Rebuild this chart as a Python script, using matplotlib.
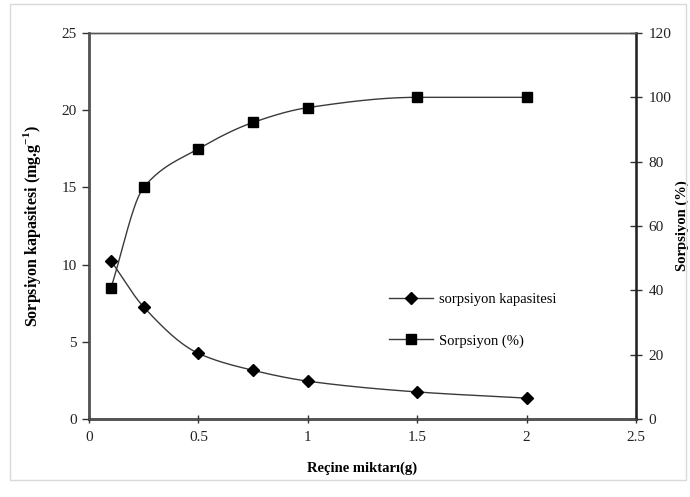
import numpy as np
import matplotlib
matplotlib.use("Agg")
import matplotlib.pyplot as plt
from matplotlib.patches import Rectangle

# resin amount (g)
resin_g = [0.1, 0.25, 0.5, 0.75, 1.0, 1.5, 2.0]
# sorption capacity (mg/g), left axis
capacity = [10.25, 7.25, 4.25, 3.15, 2.45, 1.75, 1.35]
# sorption (%), right axis
sorption_pct = [40.7, 72.0, 84.0, 92.2, 96.8, 100.0, 100.0]

x_ticks = [0, 0.5, 1, 1.5, 2, 2.5]
x_ticklabels = ["0", "0.5", "1", "1.5", "2", "2.5"]
left_ticks = [0, 5, 10, 15, 20, 25]
right_ticks = [0, 20, 40, 60, 80, 100, 120]


def smooth(xs, ys, n=40):
    # monotone cubic (Fritsch-Carlson) curve through the points, no overshoot
    xs = np.asarray(xs, float)
    ys = np.asarray(ys, float)
    h = np.diff(xs)
    d = np.diff(ys) / h
    m = np.zeros_like(ys)
    m[0], m[-1] = d[0], d[-1]
    for i in range(1, len(ys) - 1):
        if d[i - 1] * d[i] <= 0:
            m[i] = 0.0
        else:
            w1 = 2 * h[i] + h[i - 1]
            w2 = h[i] + 2 * h[i - 1]
            m[i] = (w1 + w2) / (w1 / d[i - 1] + w2 / d[i])
    out_x, out_y = [], []
    for i in range(len(xs) - 1):
        t = np.linspace(0, 1, n)
        h00 = 2 * t**3 - 3 * t**2 + 1
        h10 = t**3 - 2 * t**2 + t
        h01 = -2 * t**3 + 3 * t**2
        h11 = t**3 - t**2
        out_x.extend(xs[i] + t * h[i])
        out_y.extend(h00 * ys[i] + h10 * h[i] * m[i]
                     + h01 * ys[i + 1] + h11 * h[i] * m[i + 1])
    return np.array(out_x), np.array(out_y)


plt.rcParams["font.family"] = ["Liberation Serif", "DejaVu Serif"]
plt.rcParams["mathtext.fontset"] = "custom"
plt.rcParams["mathtext.rm"] = "Liberation Serif"
plt.rcParams["mathtext.bf"] = "Liberation Serif:bold"

fig = plt.figure(figsize=(6.9, 4.97), dpi=100)
fig.patches.append(Rectangle((0.014, 0.034), 0.98, 0.958, transform=fig.transFigure,
                             fill=False, edgecolor="#d9d9d9", linewidth=1.0))
ax = fig.add_axes([0.129, 0.157, 0.7927, 0.7766])
ax2 = ax.twinx()

line_col = "#3a3a3a"
sx, sy = smooth(resin_g, capacity)
ax.plot(sx, sy, color=line_col, linewidth=1.0)
ax.plot(resin_g, capacity, linestyle="none", marker="D", markersize=6,
        color="black")
sx, sy = smooth(resin_g, sorption_pct)
ax2.plot(sx, sy, color=line_col, linewidth=1.0)
ax2.plot(resin_g, sorption_pct, linestyle="none", marker="s", markersize=7,
         color="black")

# legend handles
ax.plot([], [], color=line_col, linewidth=1.0, marker="D", markersize=6,
        markerfacecolor="black", markeredgecolor="black",
        label="sorpsiyon kapasitesi")
ax.plot([], [], color=line_col, linewidth=1.0, marker="s", markersize=7,
        markerfacecolor="black", markeredgecolor="black",
        label="Sorpsiyon (%)")
ax.legend(loc="upper left", bbox_to_anchor=(0.525, 0.36), frameon=False,
          fontsize=10.5, handlelength=3.0, labelspacing=1.9,
          handletextpad=0.4)

ax.set_xlim(0, 2.5)
ax.set_ylim(0, 25)
ax2.set_ylim(0, 120)
ax.set_xticks(x_ticks)
ax.set_xticklabels(x_ticklabels)
ax.set_yticks(left_ticks)
ax2.set_yticks(right_ticks)

for a in (ax, ax2):
    for s in a.spines.values():
        s.set_color("#555555")
        s.set_linewidth(1.0)
ax.spines["left"].set_linewidth(1.8)
ax.spines["left"].set_color("#333333")
ax.spines["bottom"].set_linewidth(1.8)
ax.spines["bottom"].set_color("#222222")
ax2.spines["right"].set_linewidth(1.8)
ax2.spines["right"].set_color("#222222")

ax.tick_params(axis="x", direction="inout", length=6, width=1, colors="#333333",
               labelsize=11, labelcolor="#222222", pad=6)
ax.tick_params(axis="y", direction="out", length=5, width=1, colors="#333333",
               labelsize=11, labelcolor="#222222", pad=4)
ax2.tick_params(axis="y", direction="inout", length=8, width=1, colors="#333333",
                labelsize=11, labelcolor="#222222", pad=5)

ax.set_xlabel("Reçine miktarı(g)", fontsize=10.5, fontweight="bold", labelpad=12)
ax.set_ylabel("Sorpsiyon kapasitesi (mg.g$^{\\mathbf{-1}}$)", fontsize=11.5,
              fontweight="bold", labelpad=13)
ax2.set_ylabel("Sorpsiyon (%)", fontsize=10.5, fontweight="bold",
               rotation=90, va="center", ha="center")
ax2.yaxis.set_label_coords(1.084, 0.5)

fig.savefig("out.png", dpi=100)
